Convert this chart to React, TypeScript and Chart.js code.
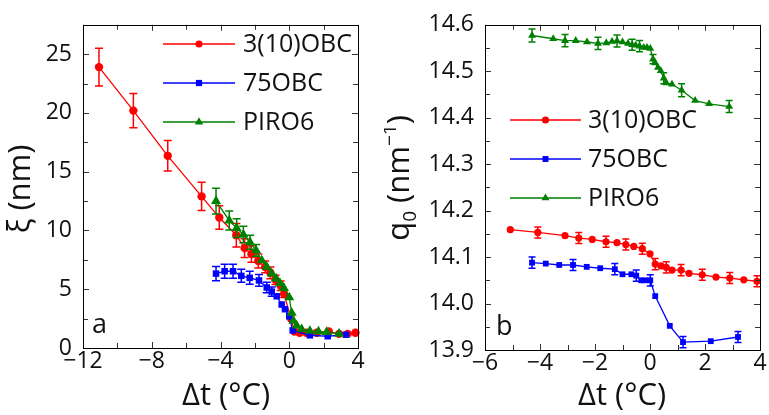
import { useEffect, useRef } from 'react';
import { Chart, registerables } from 'chart.js';

Chart.register(...registerables);

const FONT = '"Open Sans", "Liberation Sans", sans-serif';
const RED = '#ff0000';
const BLUE = '#0000ff';
const GREEN = '#008000';

// ---- Panel a: correlation length xi (nm) vs Δt (°C) ----
const xiT310 = [-11.07, -9.07, -7.07, -5.1, -4.07, -3.08, -2.6, -2.2, -1.8, -1.4, -1.1, -0.8, -0.5, -0.3, 0.1, 0.3, 0.6, 1.0, 1.6, 2.3, 2.9, 3.4, 3.85];
const xiV310 = [23.9, 20.2, 16.35, 12.9, 11.1, 9.6, 8.5, 8.0, 7.4, 6.9, 6.4, 5.8, 5.3, 4.6, 2.5, 1.4, 1.3, 1.3, 1.3, 1.4, 1.2, 1.2, 1.3];
const xiE310 = [1.6, 1.45, 1.3, 1.2, 1.0, 1.0, 0.8, 0.7, 0.6, 0.5, 0.5, 0.4, 0.4, 0.3, 0, 0, 0, 0, 0, 0, 0, 0, 0];

const xiT75 = [-4.26, -3.76, -3.27, -2.79, -2.3, -1.76, -1.31, -1.02, -0.73, -0.44, -0.25, 0.0, 0.2, 1.2, 2.24, 3.3];
const xiV75 = [6.33, 6.53, 6.53, 6.14, 5.97, 5.75, 5.15, 4.8, 4.4, 3.7, 3.3, 2.7, 1.5, 1.08, 1.0, 1.13];
const xiE75 = [0.6, 0.6, 0.6, 0.55, 0.55, 0.5, 0.45, 0.4, 0, 0, 0, 0, 0, 0, 0, 0];

const xiTPiro = [-4.26, -3.49, -3.06, -2.67, -2.28, -1.93, -1.6, -1.31, -1.02, -0.77, -0.54, -0.31, 0.0, 0.14, 0.24, 0.43, 0.72, 1.2, 1.7, 2.18, 2.9];
const xiVPiro = [12.5, 10.85, 10.2, 9.65, 9.0, 8.3, 7.45, 6.9, 6.33, 5.9, 5.5, 5.1, 4.3, 3.0, 2.3, 1.9, 1.6, 1.45, 1.4, 1.36, 1.2];
const xiEPiro = [1.1, 0.8, 0.8, 0.7, 0.6, 0.5, 0, 0, 0, 0, 0, 0, 0, 0, 0, 0, 0, 0, 0, 0, 0];

const xiXTicks = [-12, -8, -4, 0, 4];
const xiXMinor = [-10, -6, -2, 2];
const xiYTicks = [0, 5, 10, 15, 20, 25];
const xiYMinor = [2.5, 7.5, 12.5, 17.5, 22.5, 27.5];

// ---- Panel b: wave number q0 (nm^-1) vs Δt (°C) ----
const qT310 = [-5.08, -4.08, -3.09, -2.59, -2.1, -1.6, -1.2, -0.88, -0.59, -0.28, 0.0, 0.19, 0.4, 0.59, 0.8, 1.13, 1.42, 1.9, 2.4, 2.9, 3.41, 3.89];
const qV310 = [14.159, 14.153, 14.146, 14.141, 14.138, 14.133, 14.131, 14.127, 14.123, 14.118, 14.107, 14.085, 14.081, 14.078, 14.072, 14.072, 14.065, 14.062, 14.057, 14.055, 14.051, 14.048];
const qE310 = [0, 0.012, 0, 0.012, 0, 0.012, 0, 0.012, 0, 0.012, 0, 0.012, 0, 0.012, 0, 0.012, 0, 0.012, 0, 0.012, 0, 0.012];

const qT75 = [-4.29, -3.79, -3.3, -2.8, -2.3, -1.81, -1.28, -1.0, -0.68, -0.5, -0.32, -0.16, 0.01, 0.19, 0.72, 1.2, 2.21, 3.2];
const qV75 = [14.088, 14.086, 14.083, 14.083, 14.079, 14.076, 14.074, 14.063, 14.063, 14.06, 14.05, 14.05, 14.05, 14.016, 13.952, 13.917, 13.919, 13.928];
const qE75 = [0.012, 0, 0, 0.012, 0, 0, 0.012, 0, 0, 0.012, 0, 0, 0.012, 0, 0, 0.012, 0, 0.012];

const qTPiro = [-4.29, -3.52, -3.09, -2.7, -2.29, -1.89, -1.59, -1.38, -1.2, -1.0, -0.8, -0.65, -0.52, -0.38, -0.23, -0.11, 0.01, 0.11, 0.19, 0.29, 0.39, 0.5, 0.59, 0.8, 1.15, 1.64, 2.15, 2.88];
const qVPiro = [14.577, 14.57, 14.566, 14.566, 14.563, 14.56, 14.561, 14.564, 14.565, 14.563, 14.56, 14.557, 14.556, 14.554, 14.551, 14.551, 14.549, 14.526, 14.518, 14.508, 14.501, 14.485, 14.475, 14.472, 14.459, 14.437, 14.43, 14.424];
const qEPiro = [0.014, 0, 0.013, 0, 0, 0.013, 0, 0, 0.013, 0, 0, 0.012, 0, 0.012, 0, 0, 0, 0.01, 0, 0, 0, 0.012, 0, 0, 0.014, 0, 0, 0.013];

const qXTicks = [-6, -4, -2, 0, 2, 4];
const qXMinor = [-5, -3, -1, 1, 3];
const qYTicks = [13.9, 14.0, 14.1, 14.2, 14.3, 14.4, 14.5, 14.6];
const qYMinor = [13.95, 14.05, 14.15, 14.25, 14.35, 14.45, 14.55];

const seriesNames = ['3(10)OBC', '75OBC', 'PIRO6'];

type Shape = 'circle' | 'rect' | 'triangle';

type Series = {
  label: string;
  t: number[];
  v: number[];
  err: number[];
  color: string;
  shape: Shape;
  radius: number;
  order: number;
};

type PanelSpec = {
  left: number;
  width: number;
  height: number;
  area: { left: number; right: number; top: number; bottom: number };
  xMin: number;
  xMax: number;
  yMin: number;
  yMax: number;
  xTicks: number[];
  xMinor: number[];
  yTicks: number[];
  yMinor: number[];
  yDecimals: number;
  series: Series[];
  legend: { x0: number; x1: number; textX: number; rows: number[]; radii: number[] };
  letter: { text: string; x: number; y: number };
  xTitleX: number;
  yTitle: { x: number; y: number; kind: 'xi' | 'q' };
  cap: number;
};

// Tick labels use a true minus sign for negative values
const fmt = (v: number, d: number) => (v < 0 ? '\u2212' : '') + Math.abs(v).toFixed(d);

function drawMarker(ctx: CanvasRenderingContext2D, shape: Shape, x: number, y: number, r: number, color: string) {
  ctx.fillStyle = color;
  ctx.beginPath();
  if (shape === 'circle') {
    ctx.arc(x, y, r, 0, Math.PI * 2);
  } else if (shape === 'rect') {
    const s = r * Math.SQRT1_2;
    ctx.rect(x - s, y - s, 2 * s, 2 * s);
  } else {
    let a = 0;
    ctx.moveTo(x + Math.sin(a) * r, y - Math.cos(a) * r);
    a += (2 * Math.PI) / 3;
    ctx.lineTo(x + Math.sin(a) * r, y - Math.cos(a) * r);
    a += (2 * Math.PI) / 3;
    ctx.lineTo(x + Math.sin(a) * r, y - Math.cos(a) * r);
    ctx.closePath();
  }
  ctx.fill();
}

const panelA: PanelSpec = {
  left: 0,
  width: 384,
  height: 415,
  area: { left: 83, right: 358, top: 16, bottom: 348 },
  xMin: -12,
  xMax: 4,
  yMin: 0,
  yMax: 27.5,
  xTicks: xiXTicks,
  xMinor: xiXMinor,
  yTicks: xiYTicks,
  yMinor: xiYMinor,
  yDecimals: 0,
  series: [
    { label: seriesNames[0], t: xiT310, v: xiV310, err: xiE310, color: RED, shape: 'circle', radius: 4.2, order: 2 },
    { label: seriesNames[1], t: xiT75, v: xiV75, err: xiE75, color: BLUE, shape: 'rect', radius: 4.6, order: 1 },
    { label: seriesNames[2], t: xiTPiro, v: xiVPiro, err: xiEPiro, color: GREEN, shape: 'triangle', radius: 5.8, order: 0 },
  ],
  legend: { x0: 163, x1: 235, textX: 243, rows: [44, 83, 122], radii: [3.6, 4.4, 4.8] },
  letter: { text: 'a', x: 92, y: 333 },
  xTitleX: 226,
  yTitle: { x: 19, y: 189, kind: 'xi' },
  cap: 4,
};

const panelB: PanelSpec = {
  left: 384,
  width: 385,
  height: 415,
  area: { left: 101, right: 376, top: 18, bottom: 350 },
  xMin: -6,
  xMax: 4,
  yMin: 13.9,
  yMax: 14.6,
  xTicks: qXTicks,
  xMinor: qXMinor,
  yTicks: qYTicks,
  yMinor: qYMinor,
  yDecimals: 1,
  series: [
    { label: seriesNames[0], t: qT310, v: qV310, err: qE310, color: RED, shape: 'circle', radius: 3.6, order: 2 },
    { label: seriesNames[1], t: qT75, v: qV75, err: qE75, color: BLUE, shape: 'rect', radius: 4.1, order: 1 },
    { label: seriesNames[2], t: qTPiro, v: qVPiro, err: qEPiro, color: GREEN, shape: 'triangle', radius: 4.6, order: 0 },
  ],
  legend: { x0: 126, x1: 197, textX: 204, rows: [120, 159, 198], radii: [3.6, 4.2, 4.6] },
  letter: { text: 'b', x: 112, y: 335 },
  xTitleX: 238,
  yTitle: { x: 14, y: 178, kind: 'q' },
  cap: 3.5,
};

function Panel({ spec }: { spec: PanelSpec }) {
  const ref = useRef<HTMLCanvasElement | null>(null);

  useEffect(() => {
    const canvas = ref.current;
    if (!canvas) return;
    const a = spec.area;

    const errorBars = {
      id: 'errorBars',
      beforeDatasetDraw(chart: any, args: any) {
        const ds = chart.data.datasets[args.index];
        const err: number[] = ds.errors;
        if (!err) return;
        const ctx: CanvasRenderingContext2D = chart.ctx;
        const ys = chart.scales.y;
        ctx.save();
        ctx.strokeStyle = ds.borderColor;
        ctx.lineWidth = 1.5;
        args.meta.data.forEach((pt: any, i: number) => {
          const e = err[i];
          if (!e) return;
          const val = ds.data[i].y;
          const top = ys.getPixelForValue(val + e);
          const bot = ys.getPixelForValue(val - e);
          ctx.beginPath();
          ctx.moveTo(pt.x, top);
          ctx.lineTo(pt.x, bot);
          ctx.moveTo(pt.x - spec.cap, top);
          ctx.lineTo(pt.x + spec.cap, top);
          ctx.moveTo(pt.x - spec.cap, bot);
          ctx.lineTo(pt.x + spec.cap, bot);
          ctx.stroke();
        });
        ctx.restore();
      },
    };

    const frame = {
      id: 'frameTicks',
      afterDatasetsDraw(chart: any) {
        const ctx: CanvasRenderingContext2D = chart.ctx;
        const ca = chart.chartArea;
        const xs = chart.scales.x;
        const ys = chart.scales.y;
        ctx.save();
        ctx.strokeStyle = '#333';
        ctx.lineWidth = 1;
        ctx.beginPath();
        const xt = (v: number, len: number) => {
          const px = Math.round(xs.getPixelForValue(v)) + 0.5;
          ctx.moveTo(px, ca.bottom);
          ctx.lineTo(px, ca.bottom - len);
          ctx.moveTo(px, ca.top);
          ctx.lineTo(px, ca.top + len);
        };
        const yt = (v: number, len: number) => {
          const py = Math.round(ys.getPixelForValue(v)) + 0.5;
          ctx.moveTo(ca.left, py);
          ctx.lineTo(ca.left + len, py);
          ctx.moveTo(ca.right, py);
          ctx.lineTo(ca.right - len, py);
        };
        spec.xTicks.forEach((v) => xt(v, 6));
        spec.xMinor.forEach((v) => xt(v, 5));
        spec.yTicks.forEach((v) => yt(v, 6));
        spec.yMinor.forEach((v) => yt(v, 5));
        ctx.stroke();
        ctx.strokeStyle = '#000';
        ctx.strokeRect(Math.round(ca.left) + 0.5, Math.round(ca.top) + 0.5, Math.round(ca.right - ca.left), Math.round(ca.bottom - ca.top));
        ctx.restore();
      },
    };

    const annotations = {
      id: 'panelText',
      afterDraw(chart: any) {
        const ctx: CanvasRenderingContext2D = chart.ctx;
        ctx.save();
        // legend
        const lg = spec.legend;
        spec.series.forEach((s, i) => {
          const y = lg.rows[i];
          ctx.strokeStyle = s.color;
          ctx.lineWidth = 1.5;
          ctx.beginPath();
          ctx.moveTo(lg.x0, y);
          ctx.lineTo(lg.x1, y);
          ctx.stroke();
          drawMarker(ctx, s.shape, (lg.x0 + lg.x1) / 2, y, lg.radii[i], s.color);
          ctx.fillStyle = '#111';
          ctx.font = `25px ${FONT}`;
          ctx.textAlign = 'left';
          ctx.textBaseline = 'middle';
          ctx.fillText(s.label, lg.textX, y + 1);
        });

        // panel letter
        ctx.fillStyle = '#111';
        ctx.font = `27px ${FONT}`;
        ctx.textAlign = 'left';
        ctx.textBaseline = 'alphabetic';
        ctx.fillText(spec.letter.text, spec.letter.x, spec.letter.y);

        // x title
        ctx.font = `31px ${FONT}`;
        ctx.textAlign = 'center';
        ctx.textBaseline = 'middle';
        ctx.fillText('\u0394t (\u00b0C)', spec.xTitleX, 396);

        // y title, rotated; built from pieces so q0 gets its subscript and superscript
        ctx.translate(spec.yTitle.x, spec.yTitle.y);
        ctx.rotate(-Math.PI / 2);
        ctx.textBaseline = 'alphabetic';
        ctx.textAlign = 'left';
        const big = `31px ${FONT}`;
        const small = `19px ${FONT}`;
        const base = 11;
        const parts: { text: string; font: string; dy: number }[] =
          spec.yTitle.kind === 'xi'
            ? [{ text: '\u03be (nm)', font: big, dy: 0 }]
            : [
                { text: 'q', font: big, dy: 0 },
                { text: '0', font: small, dy: 7 },
                { text: ' (nm', font: big, dy: 0 },
                { text: '\u22121', font: small, dy: -13 },
                { text: ')', font: big, dy: 0 },
              ];
        let total = 0;
        parts.forEach((p) => {
          ctx.font = p.font;
          total += ctx.measureText(p.text).width;
        });
        let cx = -total / 2;
        parts.forEach((p) => {
          ctx.font = p.font;
          ctx.fillText(p.text, cx, base + p.dy);
          cx += ctx.measureText(p.text).width;
        });
        ctx.restore();
      },
    };

    const chart = new Chart(canvas, {
      type: 'line',
      data: {
        datasets: spec.series.map((s) => ({
          label: s.label,
          data: s.t.map((t, i) => ({ x: t, y: s.v[i] })),
          borderColor: s.color,
          backgroundColor: s.color,
          borderWidth: 1.3,
          pointStyle: s.shape,
          pointRadius: s.radius,
          pointHoverRadius: s.radius,
          pointBorderWidth: 0,
          tension: 0,
          order: s.order,
          clip: false,
          errors: s.err,
        })) as any,
      },
      options: {
        animation: false,
        responsive: false,
        events: [],
        layout: { padding: { left: 0, top: a.top, right: spec.width - a.right, bottom: 0 } },
        plugins: { legend: { display: false }, tooltip: { enabled: false } },
        scales: {
          x: {
            type: 'linear',
            min: spec.xMin,
            max: spec.xMax,
            grid: { display: false, drawTicks: false },
            border: { display: false },
            ticks: {
              color: '#111',
              padding: 0,
              font: { family: FONT, size: 23 },
              callback: (v: any) => fmt(Number(v), 0),
            },
            afterBuildTicks: (sc: any) => {
              sc.ticks = spec.xTicks.map((v) => ({ value: v }));
            },
            afterFit: (sc: any) => {
              sc.height = spec.height - a.bottom;
            },
          },
          y: {
            type: 'linear',
            min: spec.yMin,
            max: spec.yMax,
            grid: { display: false, drawTicks: false },
            border: { display: false },
            ticks: {
              color: '#111',
              padding: 11,
              font: { family: FONT, size: 23 },
              callback: (v: any) => fmt(Number(v), spec.yDecimals),
            },
            afterBuildTicks: (sc: any) => {
              sc.ticks = spec.yTicks.map((v) => ({ value: v }));
            },
            afterFit: (sc: any) => {
              sc.width = a.left;
            },
          },
        },
      },
      plugins: [errorBars, frame, annotations],
    });

    return () => chart.destroy();
  }, [spec]);

  return (
    <canvas
      ref={ref}
      width={spec.width}
      height={spec.height}
      style={{ position: 'absolute', left: spec.left, top: 0, width: spec.width, height: spec.height }}
    />
  );
}

export default function App() {
  return (
    <div style={{ position: 'fixed', left: 0, top: 0, width: 769, height: 415, background: '#fff', overflow: 'hidden' }}>
      <Panel spec={panelA} />
      <Panel spec={panelB} />
    </div>
  );
}
